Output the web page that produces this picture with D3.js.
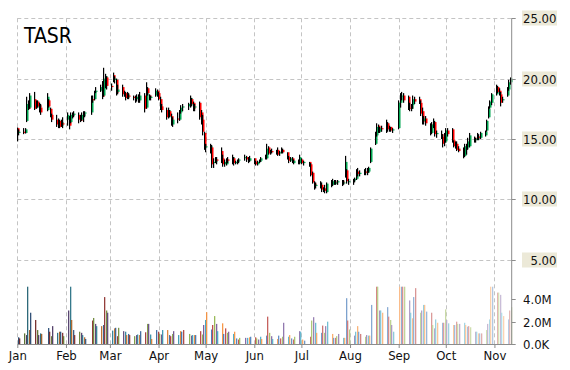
<!DOCTYPE html>
<html>
<head>
<meta charset="utf-8">
<script src="https://cdn.jsdelivr.net/npm/d3@7.9.0/dist/d3.min.js"></script>
<style>
  html, body { margin: 0; padding: 0; background: #fff; }
  svg { display: block; font-family: "DejaVu Sans Condensed", "DejaVu Sans", sans-serif; }
</style>
</head>
<body>
<svg id="chart" width="570" height="370"></svg>
<script>
const ticker = 'TASR';
const year = 2014;

// trading days of each month, Jan..Nov
const tradingDays = [
  [2, 3, 6, 7, 8, 9, 10, 13, 14, 15, 16, 17, 21, 22, 23, 24, 27, 28, 29, 30, 31],
  [3, 4, 5, 6, 7, 10, 11, 12, 13, 14, 18, 19, 20, 21, 24, 25, 26, 27, 28],
  [3, 4, 5, 6, 7, 10, 11, 12, 13, 14, 17, 18, 19, 20, 21, 24, 25, 26, 27, 28, 31],
  [1, 2, 3, 4, 7, 8, 9, 10, 11, 14, 15, 16, 17, 21, 22, 23, 24, 25, 28, 29, 30],
  [1, 2, 5, 6, 7, 8, 9, 12, 13, 14, 15, 16, 19, 20, 21, 22, 23, 27, 28, 29, 30],
  [2, 3, 4, 5, 6, 9, 10, 11, 12, 13, 16, 17, 18, 19, 20, 23, 24, 25, 26, 27, 30],
  [1, 2, 3, 7, 8, 9, 10, 11, 14, 15, 16, 17, 18, 21, 22, 23, 24, 25, 28, 29, 30, 31],
  [1, 4, 5, 6, 7, 8, 11, 12, 13, 14, 15, 18, 19, 20, 21, 22, 25, 26, 27, 28, 29],
  [2, 3, 4, 5, 8, 9, 10, 11, 12, 15, 16, 17, 18, 19, 22, 23, 24, 25, 26, 29, 30],
  [1, 2, 3, 6, 7, 8, 9, 10, 13, 14, 15, 16, 17, 20, 21, 22, 23, 24, 27, 28, 29, 30, 31],
  [3, 4, 5, 6, 7, 10, 11, 12]
];

const opens = [
  15.9, 15.5, 15.6, 15.5, 16.5, 18.1, 17.6, 18.3, 17.6, 18.1, 17.8, 17.6, 17.4, 18.2, 17.5, 17.0, 16.6, 16.2, 16.5, 16.1, 16.3,
  16.6, 16.8, 16.4, 16.9, 17.0, 17.0, 16.9, 16.6, 16.9, 17.1, 17.2, 18.3, 18.3, 18.9, 19.0, 19.5, 18.6, 19.4, 20.1,
  19.4, 20.3, 19.9, 19.9, 18.9, 19.3, 18.7, 18.8, 18.4, 18.6, 18.5, 18.4, 18.3, 18.5, 18.2, 18.6, 17.6, 19.2, 18.6, 18.4, 18.6,
  19.0, 18.8, 18.3, 17.7, 17.4, 16.8, 17.3, 16.9, 16.2, 16.7, 16.6, 17.2, 17.6, 17.7, 17.8, 18.3, 18.0, 17.6, 18.0, 17.2, 16.6,
  15.5, 14.3, 14.0, 14.3, 13.0, 13.1, 13.3, 14.0, 13.4, 12.9, 12.9, 13.3, 13.2, 13.4, 13.0, 13.1, 13.2, 13.4, 13.5, 13.3, 13.2,
  13.4, 13.1, 12.9, 13.1, 13.2, 13.4, 13.4, 14.3, 13.9, 14.0, 13.9, 14.1, 13.8, 13.9, 14.1, 13.9, 13.5, 13.2, 13.4, 13.0, 13.2,
  13.0, 13.3, 13.0, 13.1, 12.9, 12.2, 11.3, 11.1, 11.2, 11.2, 10.8, 10.9, 10.6, 11.3, 11.2, 11.5, 11.3, 11.4, 11.5, 11.4, 11.9, 12.4,
  11.5, 11.5, 11.6, 11.7, 12.3, 12.1, 12.2, 12.3, 12.2, 12.3, 13.1, 14.6, 15.3, 16.1, 15.6, 15.9, 15.8, 16.3, 15.8, 16.0, 15.7,
  15.9, 18.0, 18.5, 18.6, 18.5, 17.6, 17.5, 17.8, 18.3, 18.3, 18.0, 17.3, 16.5, 16.7, 16.2, 15.5, 16.2, 16.4, 15.4, 15.4, 15.2,
  14.7, 14.8, 15.7, 15.8, 14.9, 14.4, 14.6, 14.2, 14.0, 13.6, 14.2, 14.3, 14.4, 15.1, 14.9, 15.0, 15.2, 15.1, 15.3, 15.7, 16.8, 17.6, 18.0,
  18.7, 19.3, 19.0, 18.7, 18.2, 18.6, 19.1, 19.7
];
const highs = [
  15.95, 15.8, 15.9, 15.9, 18.5, 18.2, 18.8, 18.9, 18.2, 18.2, 18.0, 17.9, 18.8, 18.3, 17.6, 17.1, 17.0, 16.7, 16.6, 16.6, 16.8,
  17.2, 16.9, 17.2, 17.2, 17.3, 17.2, 17.0, 17.2, 17.3, 17.3, 18.6, 18.6, 19.0, 19.3, 19.5, 19.8, 20.9, 20.4, 20.2,
  19.6, 20.5, 20.2, 20.0, 19.5, 19.5, 19.0, 18.9, 18.9, 18.8, 18.6, 18.6, 18.7, 18.7, 18.9, 18.8, 19.7, 19.3, 18.7, 18.6, 19.2,
  19.1, 18.9, 18.5, 17.9, 17.6, 17.6, 17.4, 17.1, 16.8, 17.2, 17.4, 17.8, 17.9, 18.0, 18.6, 18.4, 18.1, 17.9, 18.1, 17.4, 17.0,
  15.6, 14.6, 14.6, 14.5, 13.4, 13.5, 13.5, 14.3, 13.7, 13.3, 13.4, 13.5, 13.7, 13.5, 13.2, 13.3, 13.4, 13.7, 13.6, 13.5, 13.6,
  13.4, 13.2, 13.2, 13.3, 13.5, 13.7, 14.6, 14.4, 14.1, 14.2, 14.1, 14.3, 14.0, 14.3, 14.2, 13.9, 13.6, 13.5, 13.5, 13.3, 13.3,
  13.7, 13.4, 13.2, 13.1, 13.0, 12.3, 11.5, 11.4, 11.5, 11.4, 11.0, 11.2, 11.4, 11.6, 11.7, 11.6, 11.6, 11.6, 11.6, 11.6, 13.6, 12.5,
  11.7, 11.7, 11.8, 12.5, 12.6, 12.4, 12.5, 12.6, 12.6, 12.7, 14.3, 15.6, 16.3, 16.2, 16.0, 16.1, 16.6, 16.4, 16.1, 16.0, 15.9,
  18.2, 18.8, 18.9, 18.8, 18.6, 18.0, 17.9, 18.6, 18.5, 18.5, 18.2, 17.6, 16.9, 16.9, 16.3, 16.4, 16.7, 16.5, 15.7, 15.7, 15.4,
  15.5, 15.9, 15.9, 15.9, 14.9, 14.8, 14.8, 14.4, 14.3, 14.6, 14.6, 15.1, 15.5, 15.2, 15.1, 15.5, 15.4, 15.6, 15.7, 16.6, 17.7, 18.2, 18.8,
  19.5, 19.4, 19.2, 18.9, 18.5, 19.3, 19.9, 20.1
];
const lows = [
  14.8, 15.3, 15.4, 15.45, 16.4, 17.4, 17.5, 17.4, 17.5, 17.6, 17.2, 17.0, 17.3, 17.6, 16.8, 16.4, 16.0, 15.9, 15.9, 16.0, 15.9,
  16.1, 15.8, 16.3, 16.7, 16.8, 16.3, 16.4, 16.5, 16.4, 16.8, 17.0, 18.0, 18.2, 18.8, 18.9, 18.3, 18.5, 19.2, 19.1,
  19.0, 19.7, 19.6, 18.6, 18.7, 18.5, 18.5, 18.2, 18.3, 18.3, 18.2, 18.0, 18.1, 18.0, 18.0, 17.2, 17.5, 18.6, 18.2, 18.2, 18.5,
  18.5, 18.2, 17.4, 17.2, 16.6, 16.7, 16.8, 16.1, 16.0, 16.3, 16.5, 17.1, 17.3, 17.4, 17.6, 17.7, 17.3, 17.3, 16.6, 16.2, 15.3,
  14.1, 13.9, 13.8, 12.6, 12.6, 13.0, 12.9, 13.0, 12.7, 12.7, 12.8, 13.0, 12.9, 12.8, 12.9, 12.9, 13.0, 13.2, 13.1, 13.0, 13.1,
  12.9, 12.8, 12.8, 13.0, 13.1, 13.3, 13.3, 13.7, 13.7, 13.8, 13.7, 13.6, 13.6, 13.8, 13.8, 13.3, 13.0, 13.1, 13.0, 12.9, 12.9,
  12.9, 12.9, 12.8, 12.7, 11.9, 11.3, 10.8, 10.9, 10.9, 10.6, 10.6, 10.5, 10.5, 11.0, 11.1, 11.2, 11.2, 11.2, 11.1, 11.2, 11.8, 11.3,
  11.2, 11.2, 11.4, 11.6, 11.9, 11.9, 12.0, 12.0, 12.0, 12.2, 13.0, 14.5, 15.2, 15.5, 15.5, 15.6, 15.5, 15.6, 15.6, 15.6, 15.5,
  15.8, 17.6, 18.2, 18.0, 17.4, 17.3, 17.3, 17.5, 17.9, 17.9, 16.9, 16.2, 16.2, 16.1, 15.3, 15.4, 15.9, 15.2, 15.1, 15.0, 14.3,
  14.4, 14.7, 15.2, 14.7, 14.3, 14.2, 14.0, 13.9, 13.4, 13.5, 13.7, 14.1, 14.3, 14.7, 14.7, 14.9, 14.9, 15.0, 15.2, 15.6, 16.7, 17.5, 17.8,
  18.6, 18.8, 18.6, 17.7, 18.0, 18.5, 19.0, 19.5
];
const closes = [
  15.5, 15.6, 15.5, 15.8, 17.9, 17.5, 18.6, 17.5, 18.0, 17.7, 17.6, 17.2, 18.5, 17.7, 16.9, 16.6, 16.2, 16.5, 16.0, 16.4, 16.2,
  17.0, 16.1, 17.0, 17.0, 17.1, 16.6, 16.5, 17.0, 17.1, 17.2, 18.3, 18.2, 18.9, 19.0, 19.3, 18.5, 20.0, 20.2, 19.4,
  19.3, 19.9, 20.0, 18.8, 19.1, 18.7, 18.8, 18.4, 18.7, 18.5, 18.4, 18.3, 18.5, 18.2, 18.6, 17.5, 19.2, 18.8, 18.4, 18.5, 19.0,
  18.7, 18.3, 17.6, 17.4, 16.8, 17.4, 16.9, 16.3, 16.6, 16.6, 17.2, 17.6, 17.7, 17.9, 18.4, 17.9, 17.5, 17.7, 16.8, 16.4, 15.6,
  14.3, 14.4, 14.4, 12.9, 13.1, 13.3, 13.2, 13.3, 12.9, 13.1, 13.3, 13.2, 13.5, 13.0, 13.1, 13.2, 13.3, 13.5, 13.3, 13.2, 13.4,
  13.0, 12.9, 13.1, 13.2, 13.4, 13.5, 14.2, 13.8, 14.0, 13.9, 14.0, 13.7, 13.9, 14.1, 13.9, 13.4, 13.2, 13.4, 13.1, 13.2, 13.0,
  13.5, 13.0, 13.1, 12.8, 12.0, 11.4, 11.1, 11.2, 11.1, 10.8, 10.9, 10.7, 11.3, 11.2, 11.5, 11.3, 11.4, 11.5, 11.3, 11.4, 13.1, 11.5,
  11.5, 11.6, 11.7, 12.3, 12.1, 12.2, 12.3, 12.2, 12.5, 12.6, 14.2, 15.4, 16.0, 15.6, 15.9, 15.8, 16.3, 15.8, 16.0, 15.7, 15.8,
  18.0, 18.5, 18.6, 18.2, 17.6, 17.5, 17.8, 18.3, 18.1, 18.0, 17.1, 16.4, 16.7, 16.3, 15.5, 16.2, 16.4, 15.4, 15.5, 15.2, 14.6,
  14.8, 15.7, 15.4, 14.9, 14.4, 14.6, 14.1, 14.0, 13.6, 14.4, 14.3, 14.8, 15.3, 14.9, 15.0, 15.2, 15.1, 15.5, 15.6, 16.5, 17.5, 18.1, 18.7,
  19.3, 18.9, 18.7, 18.0, 18.3, 19.1, 19.7, 20.0
];
// volume in millions of shares
const volumes = [
  0.6, 0.5, 0.95, 0.8, 5.2, 1.25, 2.8, 2.15, 1.25, 0.8, 0.95, 0.9, 1.43, 1.1, 0.7, 1.6, 1.0, 1.1, 1.1, 1.0, 0.7,
  3.0, 5.2, 2.15, 1.25, 0.8, 1.1, 1.0, 0.8, 0.6, 0.45, 2.1, 2.33, 1.8, 1.6, 1.6, 1.7, 4.2, 3.0, 2.8,
  1.2, 1.4, 1.45, 0.7, 1.45, 1.15, 1.1, 0.8, 0.9, 0.8, 0.7, 0.8, 0.85, 0.8, 1.15, 1.05, 1.8, 1.8, 0.85, 0.45, 1.25,
  1.1, 0.9, 0.85, 1.25, 1.25, 0.8, 0.7, 0.9, 1.15, 0.8, 1.15, 1.1, 1.25, 0.9, 0.75, 0.8, 0.8, 0.8, 1.15, 0.85, 1.7,
  2.15, 2.85, 1.3, 1.7, 2.5, 1.8, 1.15, 1.85, 0.9, 1.4, 1.0, 1.1, 0.9, 1.1, 0.5, 0.4, 0.55, 0.55, 0.55, 0.6, 0.65,
  0.6, 0.5, 0.4, 0.65, 0.45, 0.75, 2.45, 1.0, 0.7, 0.45, 0.45, 0.75, 0.5, 0.65, 1.9, 0.65, 0.8, 0.5, 0.4, 0.65, 1.15,
  1.1, 0.4, 0.3, 0.65, 2.1, 2.4, 1.9, 1.0, 1.0, 1.65, 1.0, 1.6, 2.0, 0.9, 0.55, 0.55, 0.7, 0.9, 0.55, 0.55, 4.1, 2.1,
  1.3, 0.75, 1.1, 1.6, 1.1, 0.9, 0.65, 0.8, 0.75, 0.75, 3.5, 5.2, 5.2, 3.0, 3.0, 2.8, 3.3, 2.45, 2.15, 1.7, 1.1,
  5.2, 5.2, 5.2, 5.2, 3.9, 2.8, 2.3, 4.2, 5.0, 2.8, 3.0, 3.5, 3.5, 2.9, 2.8, 1.7, 1.4, 2.2, 1.9, 1.9, 1.9,
  3.1, 2.15, 1.85, 1.7, 1.7, 2.0, 1.8, 1.8, 1.9, 1.7, 1.55, 1.6, 1.5, 1.1, 1.1, 0.95, 0.95, 0.95, 1.25, 1.8, 2.2, 5.2, 5.2,
  4.6, 4.6, 4.4, 2.8, 2.5, 2.2, 3.0, 3.3
];

const priceTicks = [5, 10, 15, 20, 25];
const volumeTicks = [0, 2, 4];
const volumeLabels = ['0.0K', '2.0M', '4.0M'];
const monthLabels = ['Jan', 'Feb', 'Mar', 'Apr', 'May', 'Jun', 'Jul', 'Aug', 'Sep', 'Oct', 'Nov'];

const dates = tradingDays.flatMap((days, m) => days.map(d => new Date(year, m, d)));
const quotes = dates.map((date, i) => ({
  date, i,
  open: opens[i], high: highs[i], low: lows[i], close: closes[i], volume: volumes[i]
}));

const svg = d3.select('#chart');
const plotLeft = 17.3, plotRight = 511.7, plotTop = 18.3, plotBottom = 344;

const x = d3.scaleTime()
  .domain([new Date(year, 0, 1), new Date(year, 10, 12)])
  .range([plotLeft, plotRight]);
const y = d3.scaleLinear().domain([0, 25]).range([320, plotTop]);
const yVol = d3.scaleLinear().domain([0, 5.13]).range([plotBottom, 286.7]).clamp(true);

const monthStarts = d3.timeMonth.range(new Date(year, 0, 1), new Date(year, 10, 2));

// grid
const grid = svg.append('g').attr('stroke', '#c4c4c4').attr('stroke-dasharray', '4,3');
grid.selectAll('line.h').data(priceTicks).join('line')
  .attr('x1', plotLeft).attr('x2', plotRight)
  .attr('y1', d => Math.round(y(d)) + 0.5).attr('y2', d => Math.round(y(d)) + 0.5);
grid.selectAll('line.v').data(monthStarts).join('line')
  .attr('x1', d => Math.round(x(d)) + 0.5).attr('x2', d => Math.round(x(d)) + 0.5)
  .attr('y1', plotTop).attr('y2', plotBottom);

// volume bars, colour cycles through a palette and fades over time
const palette = ['#4F81BD', '#C0504D', '#9BBB59', '#8064A2', '#4BACC6', '#F79646'];
function volColor(i) {
  const s = -0.4 + i / (quotes.length - 1);
  const base = palette[i % palette.length];
  return s < 0 ? d3.interpolateRgb(base, '#000')(-s) : d3.interpolateRgb(base, '#fff')(s);
}
svg.append('g').selectAll('rect').data(quotes).join('rect')
  .attr('x', d => Math.round(x(d.date)) - 1)
  .attr('width', 1.3)
  .attr('y', d => yVol(d.volume))
  .attr('height', d => plotBottom - yVol(d.volume))
  .attr('fill', d => volColor(d.i));

// candles: black high-low wick with the open-close body beside it
const candles = svg.append('g').selectAll('g').data(quotes).join('g');
candles.append('rect')
  .attr('x', d => Math.round(x(d.date)) - 2)
  .attr('width', 1.2)
  .attr('y', d => y(d.high))
  .attr('height', d => y(d.low) - y(d.high))
  .attr('fill', '#000');
candles.append('rect')
  .attr('x', d => Math.round(x(d.date)) - 1)
  .attr('width', 1.5)
  .attr('y', d => y(Math.max(d.open, d.close)))
  .attr('height', d => Math.max(1, Math.abs(y(d.open) - y(d.close))))
  .attr('fill', d => d.close >= d.open ? '#00a651' : '#ff0000');

// bottom axis
const xAxis = svg.append('g')
  .attr('transform', `translate(0,${plotBottom})`)
  .call(d3.axisBottom(x).tickValues(monthStarts).tickFormat((d, i) => monthLabels[i])
    .tickSize(4).tickSizeOuter(0));
xAxis.select('.domain').attr('stroke', '#8c8c8c');
xAxis.selectAll('.tick line').attr('stroke', '#8c8c8c');
xAxis.selectAll('.tick text').attr('font-size', 13).attr('fill', '#111')
  .attr('font-family', '"DejaVu Sans Condensed", "DejaVu Sans", sans-serif');

// right axis line
svg.append('line')
  .attr('x1', plotRight).attr('x2', plotRight).attr('y1', plotTop).attr('y2', plotBottom)
  .attr('stroke', '#8c8c8c');

// price ticks with label boxes
const pTick = svg.append('g').selectAll('g').data(priceTicks).join('g')
  .attr('transform', d => `translate(0,${Math.round(y(d)) + 0.5})`);
pTick.append('line').attr('x1', plotRight).attr('x2', plotRight + 4).attr('stroke', '#8c8c8c');
pTick.append('rect').attr('x', 522).attr('y', -8).attr('width', 35).attr('height', 15).attr('fill', '#ece9d8');
pTick.append('text').attr('x', 556.5).attr('y', 4.5).attr('text-anchor', 'end')
  .attr('font-size', 13).attr('fill', '#111').text(d => d3.format('.2f')(d));

// volume ticks
const vTick = svg.append('g').selectAll('g').data(volumeTicks).join('g')
  .attr('transform', d => `translate(0,${Math.round(yVol(d)) + 0.5})`);
vTick.append('line').attr('x1', plotRight).attr('x2', plotRight + 4).attr('stroke', '#8c8c8c');
vTick.append('text').attr('x', 523).attr('y', 4.5)
  .attr('font-size', 13).attr('fill', '#111').text((d, i) => volumeLabels[i]);

// title
svg.append('text').attr('x', 24).attr('y', 42.5)
  .attr('font-size', 21).attr('fill', '#000').text(ticker);
</script>
</body>
</html>
